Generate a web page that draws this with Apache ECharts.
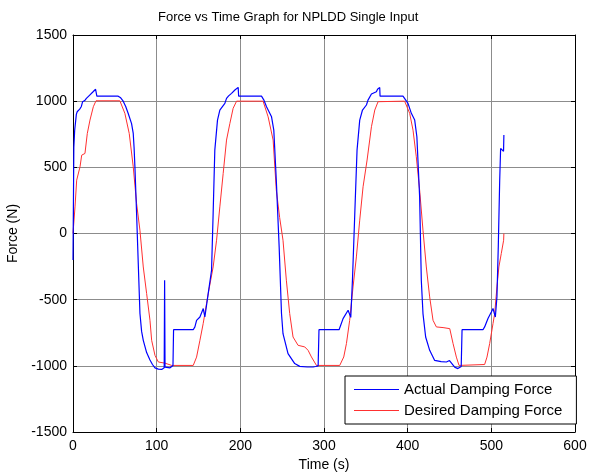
<!DOCTYPE html>
<html>
<head>
<meta charset="utf-8">
<script src="https://cdn.jsdelivr.net/npm/echarts@6/dist/echarts.min.js"></script>
<style>
  html, body { margin: 0; padding: 0; background: #fff; }
  #chart { width: 590px; height: 475px; }
</style>
</head>
<body>
<div id="chart"></div>
<script>
// 读图所得数据 (时间 s, 力 N)
const actualTime = [0, 1, 2, 4, 5, 8, 10, 11.5, 14, 16, 18, 20, 22, 24, 26, 27, 28, 28.5, 54, 57, 60, 63, 66, 70, 72, 73, 74, 76, 78, 80, 82, 84, 88, 92, 95, 98, 102, 106, 108, 109, 109.5, 110, 112, 116, 119.5, 120.2, 143.7, 145.7, 147.7, 151.7, 155.7, 157.6, 161.6, 165.6, 167.5, 169.5, 171.6, 172.7, 175.5, 181.5, 183.5, 186, 189.5, 193.5, 195, 197.4, 198, 225.3, 228, 231.3, 237.3, 240, 243, 246.4, 249.2, 251, 257, 265, 271, 280, 287, 290, 293, 294, 318, 322.8, 328.8, 331, 332, 334, 336.8, 339.5, 340.3, 342.7, 346, 350.7, 352.6, 356.7, 362.6, 364, 366.6, 367, 394.4, 400.4, 404.4, 408.4, 411, 414.3, 416.3, 418.3, 421.5, 426.3, 432.3, 440, 446.3, 450, 452.3, 456.2, 460, 464, 465, 490, 492, 496, 500, 502, 503, 504.8, 506.7, 508.3, 510, 511.1, 512.7, 514.6, 515];
const actualForce = [-200, 650, 780, 900, 920, 940, 960, 996, 1005, 1021, 1030, 1046, 1050, 1071, 1075, 1090, 1104, 1038, 1038, 1025, 1000, 960, 907, 830, 756, 650, 504, 151, -227, -603, -740, -807, -900, -956, -990, -1015, -1025, -1027, -1020, -1015, -353, -1010, -1012, -1015, -997, -727, -727, -706, -656, -631, -567, -631, -454, -278, 151, 630, 643, 857, 933, 983, 1021, 1040, 1059, 1084, 1080, 1104, 1038, 1038, 1010, 958, 882, 781, 403, -101, -605, -757, -908, -983, -1004, -1009, -1009, -1005, -1000, -727, -727, -643, -580, -570, -634, -353, 151, 630, 643, 857, 933, 971, 1008, 1054, 1071, 1090, 1104, 1038, 1038, 983, 908, 857, 731, 277, -353, -605, -782, -883, -959, -968, -971, -960, -971, -1010, -1021, -1005, -727, -727, -706, -643, -593, -567, -590, -631, -479, -101, 403, 643, 643, 621, 744];

const desiredTime = [0, 2.4, 4.4, 8.4, 10.4, 14.3, 17.1, 20.3, 24.3, 27.5, 56, 62, 67.2, 72, 76, 80, 84, 88, 92, 94, 98, 102, 103, 110, 118, 143.7, 147.7, 151.7, 155.6, 159.6, 161.6, 167.5, 171.6, 175.5, 179.5, 183.5, 187.5, 191.4, 195.5, 227.2, 233.2, 239.2, 243, 247, 251, 255, 259, 263, 269, 277, 281, 285, 291, 318.8, 323.6, 326.8, 330.7, 334.7, 338.7, 342.7, 346.7, 351.5, 356.7, 360.7, 364.6, 396.4, 402.4, 406.4, 410.3, 414.3, 418.3, 422.3, 426.3, 430.3, 434.3, 442.3, 450.3, 454.2, 458.2, 461.4, 492, 494.8, 498, 502, 504, 506.7, 509, 511.9, 514.7, 515];
const desiredForce = [0, 201, 403, 504, 592, 605, 756, 857, 958, 1003, 1003, 908, 756, 504, 227, 25, -253, -454, -656, -807, -921, -971, -980, -980, -997, -997, -934, -807, -681, -530, -454, -253, -51, 201, 454, 706, 832, 946, 1000, 1000, 882, 706, 328, 120, -51, -353, -605, -782, -845, -857, -883, -933, -997, -997, -933, -832, -656, -404, -177, 101, 353, 555, 807, 933, 996, 1000, 908, 781, 580, 328, 25, -253, -479, -656, -706, -711, -719, -830, -934, -997, -990, -934, -832, -681, -605, -404, -253, -151, -51, 0];

const seriesNames = ['Actual Damping Force', 'Desired Damping Force'];
const titleText = 'Force vs Time Graph for NPLDD Single Input';
const xTicks = { min: 0, max: 600, interval: 100 };
const yTicks = { min: -1500, max: 1500, interval: 500 };

const FONT = 'Liberation Sans';
const chart = echarts.init(document.getElementById('chart'), null, { renderer: 'canvas' });

const pairs = (xs, ys) => xs.map((x, i) => [x, ys[i]]);

const gridLine = { show: true, lineStyle: { color: '#8c8c8c', width: 1 } };
const blackLine = { show: true, onZero: false, lineStyle: { color: '#000', width: 1 } };
const innerTick = { show: true, inside: true, length: 4, lineStyle: { color: '#000' } };
const plainNum = v => String(v);

chart.setOption({
    backgroundColor: '#fff',
    animation: false,
    title: {
        text: titleText,
        left: 153,
        top: 6,
        textStyle: { fontFamily: FONT, fontSize: 13, fontWeight: 'normal', color: '#000' }
    },
    grid: { left: 73, right: 15, top: 35, bottom: 43, containLabel: false, outerBoundsMode: 'none' },
    legend: {
        data: seriesNames,
        orient: 'vertical',
        left: 345,
        top: 376,
        width: 225,
        itemWidth: 45,
        itemHeight: 10,
        itemGap: 6,
        padding: [6, 14, 6, 9],
        backgroundColor: '#fff',
        borderColor: '#000',
        borderWidth: 1,
        borderRadius: 0,
        icon: 'path://M0,5 L45,5 L45,6 L0,6 Z',
        textStyle: { fontFamily: FONT, fontSize: 15, color: '#000' }
    },
    xAxis: [{
        type: 'value',
        min: xTicks.min, max: xTicks.max, interval: xTicks.interval,
        name: 'Time (s)',
        nameLocation: 'middle',
        nameGap: 26,
        nameTextStyle: { fontFamily: FONT, fontSize: 14, color: '#000' },
        axisLine: blackLine,
        axisTick: innerTick,
        axisLabel: { fontFamily: FONT, fontSize: 14, color: '#000', margin: 7, formatter: plainNum },
        splitLine: gridLine
    }, {
        type: 'value', position: 'top',
        min: xTicks.min, max: xTicks.max, interval: xTicks.interval,
        axisLine: blackLine, axisTick: innerTick,
        axisLabel: { show: false }, splitLine: { show: false }
    }],
    yAxis: [{
        type: 'value',
        min: yTicks.min, max: yTicks.max, interval: yTicks.interval,
        name: 'Force (N)',
        nameLocation: 'middle',
        nameGap: 46,
        nameTextStyle: { fontFamily: FONT, fontSize: 14, color: '#000' },
        axisLine: blackLine,
        axisTick: innerTick,
        axisLabel: { fontFamily: FONT, fontSize: 14, color: '#000', margin: 6, formatter: plainNum },
        splitLine: gridLine
    }, {
        type: 'value', position: 'right',
        min: yTicks.min, max: yTicks.max, interval: yTicks.interval,
        axisLine: blackLine, axisTick: innerTick,
        axisLabel: { show: false }, splitLine: { show: false }
    }],
    series: [{
        name: seriesNames[0],
        type: 'line',
        data: pairs(actualTime, actualForce),
        symbol: 'none',
        itemStyle: { color: '#0000ff' },
        lineStyle: { color: '#0000ff', width: 1.2 },
        z: 3
    }, {
        name: seriesNames[1],
        type: 'line',
        data: pairs(desiredTime, desiredForce),
        symbol: 'none',
        itemStyle: { color: '#ff3030' },
        lineStyle: { color: '#ff3030', width: 1 },
        z: 2
    }]
});
</script>
</body>
</html>
